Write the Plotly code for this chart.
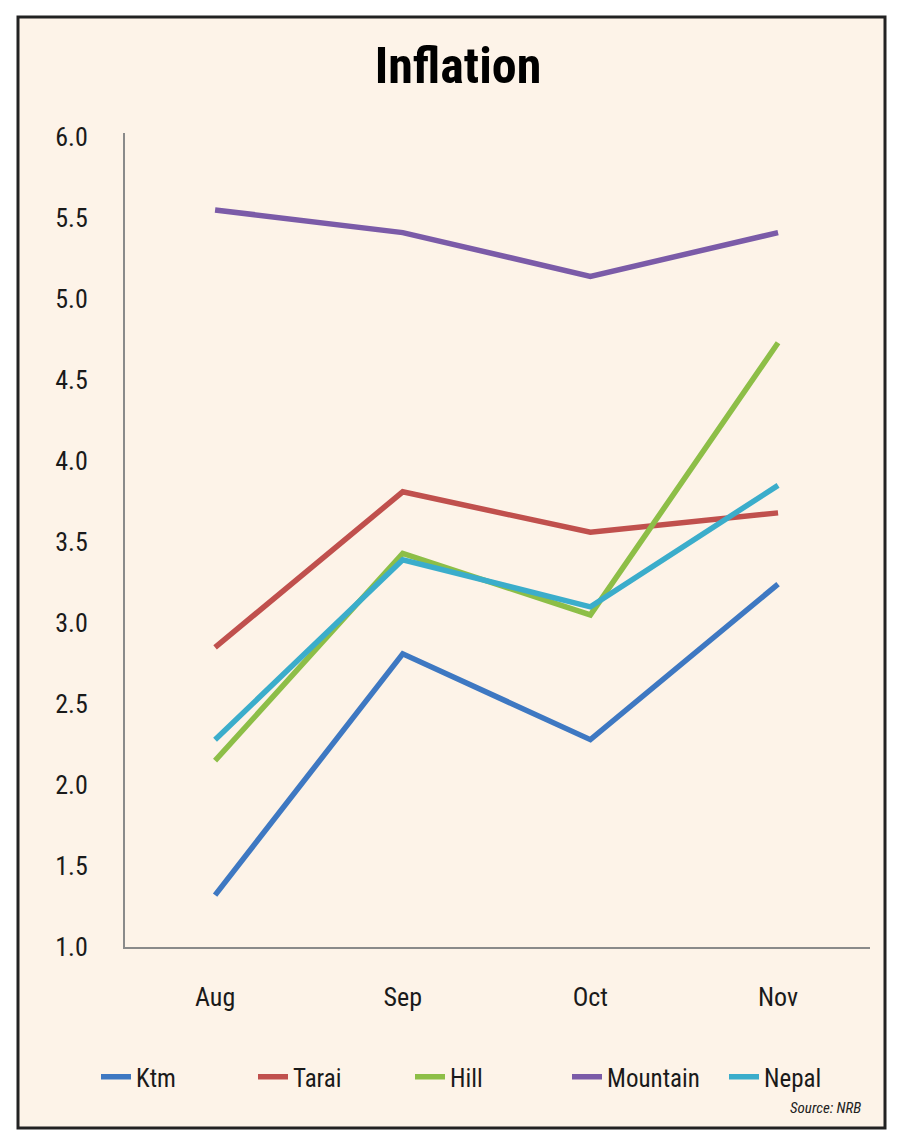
import plotly.graph_objects as go

months = ["Aug", "Sep", "Oct", "Nov"]
ktm = [1.32, 2.81, 2.28, 3.24]
tarai = [2.85, 3.81, 3.56, 3.68]
hill = [2.15, 3.43, 3.05, 4.73]
mountain = [5.55, 5.41, 5.14, 5.41]
nepal = [2.28, 3.39, 3.10, 3.85]
y_ticks = [1.0, 1.5, 2.0, 2.5, 3.0, 3.5, 4.0, 4.5, 5.0, 5.5, 6.0]

series = [
    ("Ktm", ktm, "#3E78C2"),
    ("Tarai", tarai, "#C0504D"),
    ("Hill", hill, "#8DBE47"),
    ("Mountain", mountain, "#7B5BA8"),
    ("Nepal", nepal, "#3BADCB"),
]

FONT = "Liberation Sans Narrow, Roboto Condensed, Arial Narrow, Liberation Sans, sans-serif"

fig = go.Figure()
for name, vals, col in series:
    fig.add_trace(go.Scatter(x=months, y=vals, mode="lines", name=name,
                             line=dict(color=col, width=5.5)))

# page body offset compensation (8px browser margin)
O = 8
W, H = 900 - O, 1144 - O
L = 125 - O
T = 133 - O
R = W - (870 - O)
B = H - (947 - O)
pw, ph = W - L - R, H - T - B

def px(x):
    return (x - O - L) / pw

def py(y):
    return (H - B - (y - O)) / ph

fig.update_layout(
    width=W, height=H,
    margin=dict(l=L, r=R, t=T, b=B, autoexpand=False),
    paper_bgcolor="white",
    plot_bgcolor="#FDF3E8",
    font=dict(family=FONT, color="#1a1a1a"),
    title=dict(text="<b>Inflation</b>", x=px(458), xanchor="center", xref="paper",
               y=1 - (65 - O) / H, yanchor="middle",
               font=dict(size=50, family=FONT, color="#000000")),
    showlegend=True,
    legend=dict(orientation="h", x=px(96), xanchor="left",
                y=py(1077), yanchor="middle",
                font=dict(size=25, family=FONT, color="#1a1a1a"),
                bgcolor="rgba(0,0,0,0)", entrywidth=112,
                entrywidthmode="pixels"),
    xaxis=dict(type="category", range=[-0.48, 3.49], showgrid=False,
               zeroline=False, showline=True, linecolor="#8a8a8a", linewidth=2,
               ticks="", tickfont=dict(size=26, family=FONT, color="#1a1a1a"),
               ticklabelstandoff=26),
    yaxis=dict(range=[1.0, 6.025], tickvals=y_ticks, tickformat=".1f",
               showgrid=False, zeroline=False, showline=True,
               linecolor="#8a8a8a", linewidth=2, ticks="",
               tickfont=dict(size=26, family=FONT, color="#1a1a1a"),
               ticklabelstandoff=30),
    shapes=[
        dict(type="rect", xref="paper", yref="paper", layer="below",
             x0=px(18), x1=px(885), y0=py(1128), y1=py(17),
             fillcolor="#FDF3E8", line=dict(color="#222222", width=3)),
    ],
    annotations=[
        dict(text="<i>Source: NRB</i>", xref="paper", yref="paper",
             x=px(863), y=py(1108), xanchor="right", yanchor="middle",
             showarrow=False, font=dict(size=15, family=FONT, color="#222222")),
    ],
)

fig.write_html("out.html")
